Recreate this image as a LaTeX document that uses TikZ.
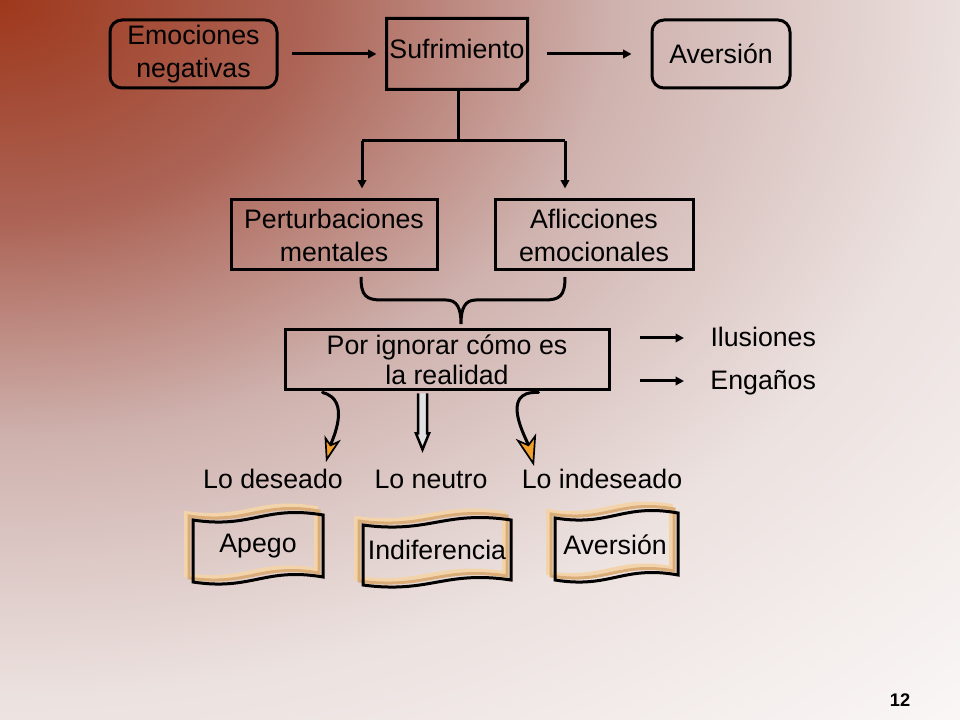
\documentclass[tikz,border=0pt]{standalone}
\usepackage{fontspec}
\setmainfont{Liberation Sans}
\usetikzlibrary{arrows.meta,positioning,calc}

\newdimen\px \px=0.025cm
\def\labelsep{1.15cm}

\definecolor{rust}{RGB}{158,56,28}
\definecolor{rustmid}{RGB}{172,100,86}
\definecolor{rose}{RGB}{207,178,174}
\definecolor{blush}{RGB}{236,226,224}
\definecolor{paper}{RGB}{250,247,246}
\definecolor{peach}{RGB}{243,212,170}
\definecolor{tan}{RGB}{218,172,120}
\definecolor{tipfill}{RGB}{242,160,40}
\definecolor{shaftfill}{RGB}{225,225,225}

\pgfdeclareradialshading{bgglow}{\pgfpoint{0bp}{0bp}}{color(0bp)=(rust); color(5.5bp)=(rustmid); color(11bp)=(rose); color(17.5bp)=(blush); color(25bp)=(paper); color(50bp)=(paper)}

% one wave outline, top left corner (#2,#3), width #4, height #5
\newcommand{\waveline}[5]{%
  \draw[#1] ({#2},{#3+13}) .. controls ({#2+0.45*#4},{#3+22}) and ({#2+0.55*#4},{#3-2}) .. ({#2+#4},{#3+8})
    -- ({#2+#4},{#3+8+#5}) .. controls ({#2+0.55*#4},{#3-2+#5}) and ({#2+0.45*#4},{#3+22+#5}) .. ({#2},{#3+13+#5}) -- cycle;}
\newcommand{\wavebox}[4]{%
  \waveline{peach,line width=4*\px}{#1-7}{#2-7}{#3}{#4}
  \waveline{tan,line width=3*\px}{#1-4}{#2-4}{#3}{#4}
  \waveline{black,line width=3*\px}{#1}{#2}{#3}{#4}}

\begin{document}
\begin{tikzpicture}[x=0.025cm,y=-0.025cm,line width=3*\px,node distance=\labelsep,
  >={Triangle[length=6pt,width=6pt]}]
    \tikzstyle{txt}=[font=\fontsize{19}{23.5}\selectfont,align=center,inner sep=0pt]
    \tikzstyle{box}=[txt,draw,minimum height=68*\px]
    \tikzstyle{rbox}=[box,rounded corners=12*\px]
    \tikzstyle{notebox}=[txt,minimum width=138*\px,minimum height=68*\px,text depth=7pt]
    \tikzstyle{curvearr}=[line cap=round,-{Stealth[length=18pt,width=12pt,inset=5pt,fill=tipfill,line width=1.2pt]}]

    \useasboundingbox (0,0) rectangle (960,720);
    % background
    \begin{scope}
      \clip (0,0) rectangle (960,720);
      \fill[paper] (0,0) rectangle (960,720);
      \shade[shading=bgglow] (0,0) ellipse (1400 and 1000);
    \end{scope}

    % top row
    \node[rbox,minimum width=167*\px] (emo) at (193.5,54) {Emociones\\negativas};
    \node[notebox] (suf) at (457,54) {Sufrimiento};
    \node[rbox,minimum width=138*\px] (ave) at (721,54) {Aversión};
    \draw (suf.north west) -- (suf.north east) -- ($(suf.south east)+(0,-9)$) -- ($(suf.south east)+(-9,0)$) -- (suf.south west) -- cycle;
    \fill ($(suf.south east)+(0,-9)$) -- ($(suf.south east)+(-9,0)$) -- ($(suf.south east)+(-7,-6)$) -- cycle;
    \draw[->,shorten <=13*\px,shorten >=10*\px] (emo) -- (suf);
    \draw[->,shorten <=19*\px,shorten >=19*\px] (suf) -- (ave);

    % second row
    \node[box,minimum width=206*\px,minimum height=70*\px] (pert) at (334,235) {Perturbaciones\\mentales};
    \node[box,minimum width=198*\px,minimum height=70*\px] (afli) at (594,235) {Aflicciones\\emocionales};
    \coordinate (fork) at (458,141);
    \coordinate (forkL) at (362,141);
    \coordinate (forkR) at (565,141);
    \draw (suf.south -| fork) -- (fork);
    \draw (forkL) -- (forkR);
    \draw[->,shorten >=10*\px] (forkL) -- (forkL |- pert.north);
    \draw[->,shorten >=10*\px] (forkR) -- (forkR |- afli.north);

    % brace
    \coordinate (braceL) at (361,277);
    \coordinate (braceR) at (565,277);
    \coordinate (braceTip) at (461,324);
    \draw (braceL) .. controls (361,296) and (366,300) .. (382,300) -- (446,300)
      .. controls (457,300) and (461,308) .. (braceTip)
      .. controls (461,308) and (465,300) .. (476,300) -- (544,300)
      .. controls (560,300) and (565,296) .. (braceR);

    % third row
    \node[box,minimum width=324*\px,minimum height=60*\px,font=\fontsize{19}{21.5}\selectfont] (ign) at (447,360) {Por ignorar cómo es\\la realidad};
    \node[txt,anchor=west] (ilu) at (709,337) {Ilusiones};
    \node[txt,below of=ilu] (eng) {Engaños};
    \coordinate (iluS) at (640,338);
    \coordinate (engS) at (640,381);
    \draw[->,shorten >=25*\px] (iluS) -- (iluS -| ilu.west);
    \draw[->,shorten >=25*\px] (engS) -- (engS -| eng.west);

    % what is perceived
    \node[txt] (deseado) at (273,479) {Lo deseado};
    \node[txt] (neutro) at (431,479) {Lo neutro};
    \node[txt] (indeseado) at (602,479) {Lo indeseado};
    \coordinate (cL) at ($(ign.south west)+(39,1)$);
    \coordinate (cM) at ($(ign.south west)+(139,2)$);
    \coordinate (cR) at ($(ign.south west)+(255,1)$);
    \coordinate (tipL) at (326,462);
    \coordinate (tipR) at (534,466);
    \draw[curvearr] (cL) .. controls (352,400) and (332,440) .. (tipL);
    \draw[curvearr,-{Stealth[length=22pt,width=15pt,inset=6pt,fill=tipfill,line width=1.2pt]}] (cR) .. controls (498,390) and (527,440) .. (tipR);
    \draw[fill=shaftfill,line width=2.5*\px,line join=miter] (cM) ++(-4.5,0) -- ++(0,40) -- ++(-2,0) -- ++(6.5,16) -- ++(6.5,-16) -- ++(-2,0) -- ++(0,-40);

    % reactions
    \wavebox{193}{507}{130}{62}
    \wavebox{363}{512}{148}{60}
    \wavebox{555}{505}{123}{62}
    \node[txt] (apego) at (258,546) {Apego};
    \node[txt] (indif) at (437,550) {Indiferencia};
    \node[txt] (rechazo) at (615,545) {Aversión};

    \node[font=\fontsize{13}{15}\selectfont\bfseries] (pagenum) at (900,700) {12};
\end{tikzpicture}
\end{document}
